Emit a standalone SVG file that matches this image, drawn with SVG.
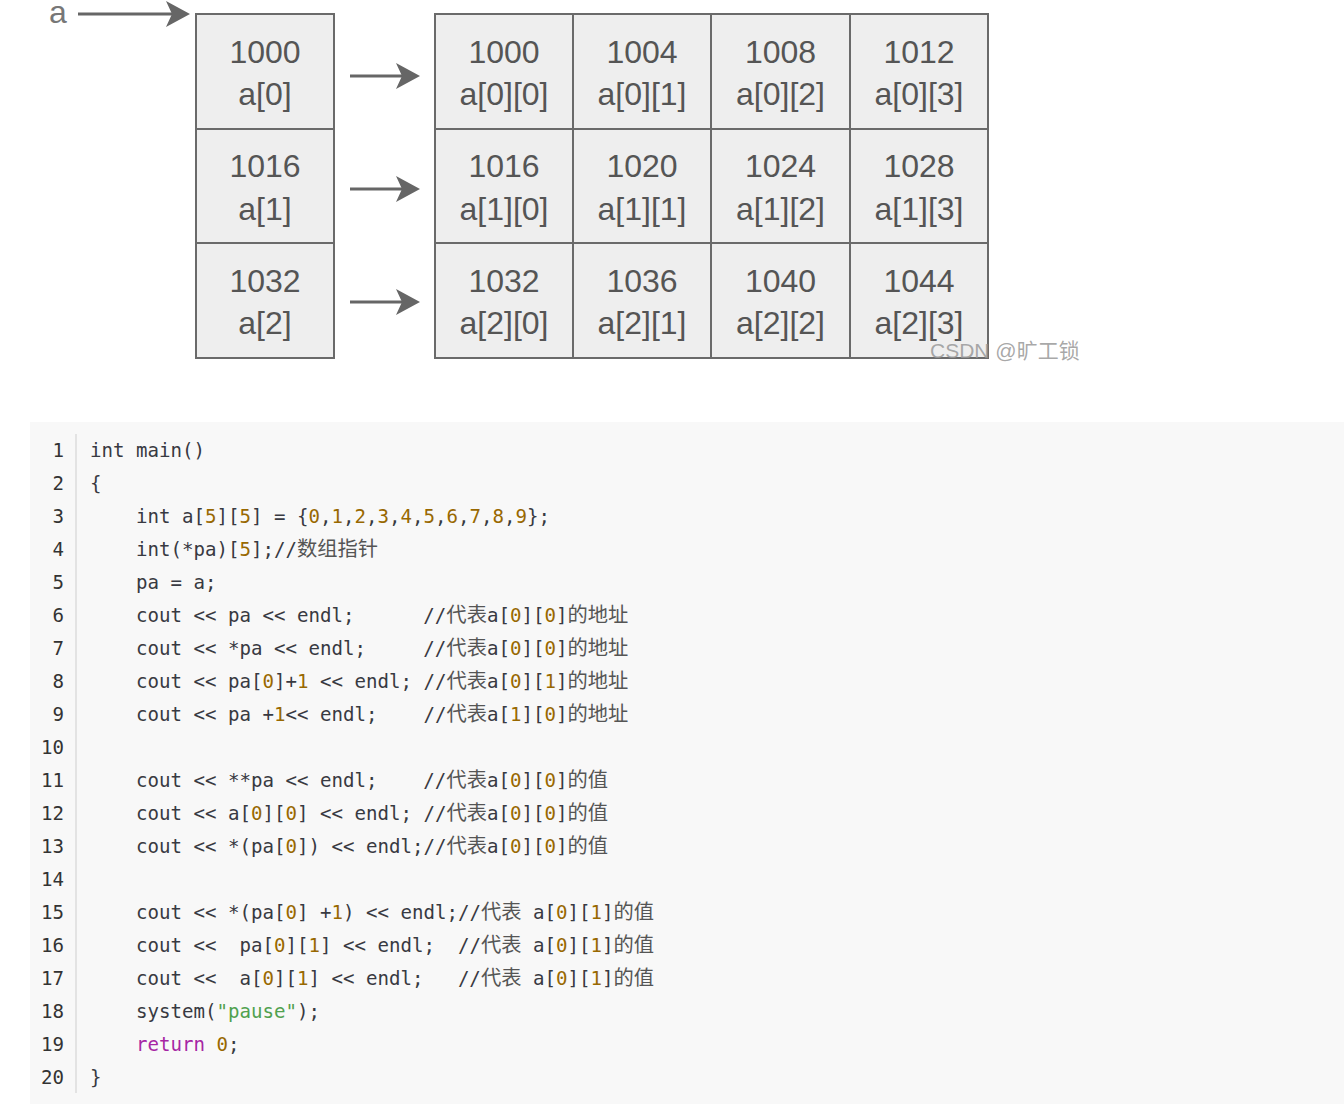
<svg xmlns="http://www.w3.org/2000/svg" width="1344" height="1104" viewBox="0 0 1344 1104">
<style>
.cell{fill:#eeeeee;stroke:#6a6a6a;stroke-width:2}
.t{font-family:"Liberation Sans",Arial,sans-serif;font-size:32px;fill:#555;text-anchor:middle}
.arr{stroke:#666;stroke-width:3;fill:none}
.code{font-family:"DejaVu Sans Mono","Liberation Mono","Noto Sans CJK SC",monospace;font-size:19.1px;fill:#383a42;white-space:pre}
.ln{font-family:"DejaVu Sans Mono","Liberation Mono",monospace;font-size:19.1px;fill:#333;text-anchor:end}
.n{fill:#986801}
.s{fill:#50a14f}
.k{fill:#a626a4}
.c{font-family:"Noto Sans CJK SC",sans-serif;font-size:20.3px;fill:#555}
</style>
<defs>
<marker id="ah" markerUnits="userSpaceOnUse" viewBox="0 0 24 26" markerWidth="24" markerHeight="26" refX="16" refY="13" orient="auto">
<path d="M0,0 L24,13 L0,26 L6,13 Z" fill="#666"/>
</marker>
</defs>
<rect width="1344" height="1104" fill="#ffffff"/>

<g id="label-a"><text class="t" x="58" y="23" style="fill:#777">a</text></g>

<g id="rows">
<g id="a0"><rect class="cell" x="196" y="14" width="138" height="115"/><text class="t" x="265" y="62.5">1000</text><text class="t" x="265" y="105">a[0]</text></g>
<g id="a1"><rect class="cell" x="196" y="129" width="138" height="114"/><text class="t" x="265" y="177">1016</text><text class="t" x="265" y="219.5">a[1]</text></g>
<g id="a2"><rect class="cell" x="196" y="243" width="138" height="115"/><text class="t" x="265" y="291.5">1032</text><text class="t" x="265" y="334">a[2]</text></g>
</g>

<g id="grid">
<g id="a00"><rect class="cell" x="435" y="14" width="138" height="115"/><text class="t" x="504" y="62.5">1000</text><text class="t" x="504" y="105">a[0][0]</text></g>
<g id="a01"><rect class="cell" x="573" y="14" width="138" height="115"/><text class="t" x="642" y="62.5">1004</text><text class="t" x="642" y="105">a[0][1]</text></g>
<g id="a02"><rect class="cell" x="711" y="14" width="139" height="115"/><text class="t" x="780.5" y="62.5">1008</text><text class="t" x="780.5" y="105">a[0][2]</text></g>
<g id="a03"><rect class="cell" x="850" y="14" width="138" height="115"/><text class="t" x="919" y="62.5">1012</text><text class="t" x="919" y="105">a[0][3]</text></g>

<g id="a10"><rect class="cell" x="435" y="129" width="138" height="114"/><text class="t" x="504" y="177">1016</text><text class="t" x="504" y="219.5">a[1][0]</text></g>
<g id="a11"><rect class="cell" x="573" y="129" width="138" height="114"/><text class="t" x="642" y="177">1020</text><text class="t" x="642" y="219.5">a[1][1]</text></g>
<g id="a12"><rect class="cell" x="711" y="129" width="139" height="114"/><text class="t" x="780.5" y="177">1024</text><text class="t" x="780.5" y="219.5">a[1][2]</text></g>
<g id="a13"><rect class="cell" x="850" y="129" width="138" height="114"/><text class="t" x="919" y="177">1028</text><text class="t" x="919" y="219.5">a[1][3]</text></g>

<g id="a20"><rect class="cell" x="435" y="243" width="138" height="115"/><text class="t" x="504" y="291.5">1032</text><text class="t" x="504" y="334">a[2][0]</text></g>
<g id="a21"><rect class="cell" x="573" y="243" width="138" height="115"/><text class="t" x="642" y="291.5">1036</text><text class="t" x="642" y="334">a[2][1]</text></g>
<g id="a22"><rect class="cell" x="711" y="243" width="139" height="115"/><text class="t" x="780.5" y="291.5">1040</text><text class="t" x="780.5" y="334">a[2][2]</text></g>
<g id="a23"><rect class="cell" x="850" y="243" width="138" height="115"/><text class="t" x="919" y="291.5">1044</text><text class="t" x="919" y="334">a[2][3]</text></g>
</g>

<g id="connectors">
<line class="arr" x1="78" y1="14" x2="182" y2="14" marker-end="url(#ah)"/>
<line class="arr" x1="350" y1="76" x2="412" y2="76" marker-end="url(#ah)"/>
<line class="arr" x1="350" y1="189" x2="412" y2="189" marker-end="url(#ah)"/>
<line class="arr" x1="350" y1="302" x2="412" y2="302" marker-end="url(#ah)"/>
</g>

<g id="watermark"><text x="930" y="358" font-family="'Liberation Sans','Noto Sans CJK SC',sans-serif" font-size="21" fill="#999" fill-opacity="0.85">CSDN @旷工锁</text></g>

<g id="code-block">
<rect x="30" y="422" width="1314" height="682" fill="#f8f8f8"/>
<line x1="76" y1="434" x2="76" y2="1093" stroke="#dddddd" stroke-width="1.5"/>
<g id="line-numbers">
<text class="ln" x="64" y="457">1</text>
<text class="ln" x="64" y="490">2</text>
<text class="ln" x="64" y="523">3</text>
<text class="ln" x="64" y="556">4</text>
<text class="ln" x="64" y="589">5</text>
<text class="ln" x="64" y="622">6</text>
<text class="ln" x="64" y="655">7</text>
<text class="ln" x="64" y="688">8</text>
<text class="ln" x="64" y="721">9</text>
<text class="ln" x="64" y="754">10</text>
<text class="ln" x="64" y="787">11</text>
<text class="ln" x="64" y="820">12</text>
<text class="ln" x="64" y="853">13</text>
<text class="ln" x="64" y="886">14</text>
<text class="ln" x="64" y="919">15</text>
<text class="ln" x="64" y="952">16</text>
<text class="ln" x="64" y="985">17</text>
<text class="ln" x="64" y="1018">18</text>
<text class="ln" x="64" y="1051">19</text>
<text class="ln" x="64" y="1084">20</text>
</g>
<g id="code-lines">
<text class="code" xml:space="preserve" x="90" y="457">int main()</text>
<text class="code" xml:space="preserve" x="90" y="490">{</text>
<text class="code" xml:space="preserve" x="90" y="523">    int a[<tspan class="n">5</tspan>][<tspan class="n">5</tspan>] = {<tspan class="n">0</tspan>,<tspan class="n">1</tspan>,<tspan class="n">2</tspan>,<tspan class="n">3</tspan>,<tspan class="n">4</tspan>,<tspan class="n">5</tspan>,<tspan class="n">6</tspan>,<tspan class="n">7</tspan>,<tspan class="n">8</tspan>,<tspan class="n">9</tspan>};</text>
<text class="code" xml:space="preserve" x="90" y="556">    int(*pa)[<tspan class="n">5</tspan>];//<tspan class="c">数组指针</tspan></text>
<text class="code" xml:space="preserve" x="90" y="589">    pa = a;</text>
<text class="code" xml:space="preserve" x="90" y="622">    cout &lt;&lt; pa &lt;&lt; endl;      //<tspan class="c">代表</tspan>a[<tspan class="n">0</tspan>][<tspan class="n">0</tspan>]<tspan class="c">的地址</tspan></text>
<text class="code" xml:space="preserve" x="90" y="655">    cout &lt;&lt; *pa &lt;&lt; endl;     //<tspan class="c">代表</tspan>a[<tspan class="n">0</tspan>][<tspan class="n">0</tspan>]<tspan class="c">的地址</tspan></text>
<text class="code" xml:space="preserve" x="90" y="688">    cout &lt;&lt; pa[<tspan class="n">0</tspan>]+<tspan class="n">1</tspan> &lt;&lt; endl; //<tspan class="c">代表</tspan>a[<tspan class="n">0</tspan>][<tspan class="n">1</tspan>]<tspan class="c">的地址</tspan></text>
<text class="code" xml:space="preserve" x="90" y="721">    cout &lt;&lt; pa +<tspan class="n">1</tspan>&lt;&lt; endl;    //<tspan class="c">代表</tspan>a[<tspan class="n">1</tspan>][<tspan class="n">0</tspan>]<tspan class="c">的地址</tspan></text>
<text class="code" xml:space="preserve" x="90" y="787">    cout &lt;&lt; **pa &lt;&lt; endl;    //<tspan class="c">代表</tspan>a[<tspan class="n">0</tspan>][<tspan class="n">0</tspan>]<tspan class="c">的值</tspan></text>
<text class="code" xml:space="preserve" x="90" y="820">    cout &lt;&lt; a[<tspan class="n">0</tspan>][<tspan class="n">0</tspan>] &lt;&lt; endl; //<tspan class="c">代表</tspan>a[<tspan class="n">0</tspan>][<tspan class="n">0</tspan>]<tspan class="c">的值</tspan></text>
<text class="code" xml:space="preserve" x="90" y="853">    cout &lt;&lt; *(pa[<tspan class="n">0</tspan>]) &lt;&lt; endl;//<tspan class="c">代表</tspan>a[<tspan class="n">0</tspan>][<tspan class="n">0</tspan>]<tspan class="c">的值</tspan></text>
<text class="code" xml:space="preserve" x="90" y="919">    cout &lt;&lt; *(pa[<tspan class="n">0</tspan>] +<tspan class="n">1</tspan>) &lt;&lt; endl;//<tspan class="c">代表</tspan> a[<tspan class="n">0</tspan>][<tspan class="n">1</tspan>]<tspan class="c">的值</tspan></text>
<text class="code" xml:space="preserve" x="90" y="952">    cout &lt;&lt;  pa[<tspan class="n">0</tspan>][<tspan class="n">1</tspan>] &lt;&lt; endl;  //<tspan class="c">代表</tspan> a[<tspan class="n">0</tspan>][<tspan class="n">1</tspan>]<tspan class="c">的值</tspan></text>
<text class="code" xml:space="preserve" x="90" y="985">    cout &lt;&lt;  a[<tspan class="n">0</tspan>][<tspan class="n">1</tspan>] &lt;&lt; endl;   //<tspan class="c">代表</tspan> a[<tspan class="n">0</tspan>][<tspan class="n">1</tspan>]<tspan class="c">的值</tspan></text>
<text class="code" xml:space="preserve" x="90" y="1018">    system(<tspan class="s">"pause"</tspan>);</text>
<text class="code" xml:space="preserve" x="90" y="1051">    <tspan class="k">return</tspan> <tspan class="n">0</tspan>;</text>
<text class="code" xml:space="preserve" x="90" y="1084">}</text>
</g>
</g>
</svg>
